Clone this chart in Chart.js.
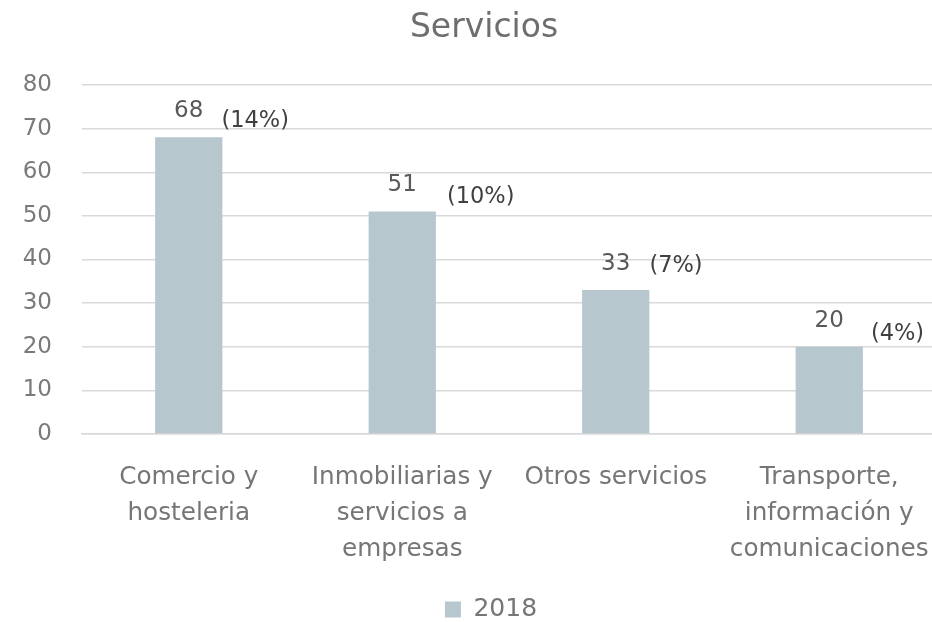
<!DOCTYPE html>
<html>
<head>
<meta charset="utf-8">
<script src="https://cdn.jsdelivr.net/npm/chart.js@4"></script>
<style>
  html, body { margin: 0; padding: 0; background: #fff; overflow: hidden; }
  /* plot runs a few pixels past the right edge in the original */
  #wrap { width: 936px; height: 622px; }
</style>
</head>
<body>
<div id="wrap"><canvas id="chart"></canvas></div>
<script>
// data
const categories = [
  ["Comercio y", "hosteleria"],
  ["Inmobiliarias y", "servicios a", "empresas"],
  ["Otros servicios"],
  ["Transporte,", "información y", "comunicaciones"]
];
const values2018 = [68, 51, 33, 20];
const shares = ["(14%)", "(10%)", "(7%)", "(4%)"];
const yTicks = [0, 10, 20, 30, 40, 50, 60, 70, 80];

const FONT = "'DejaVu Sans', sans-serif";

// draws the value above each bar and the share label beside it
const barLabels = {
  id: "barLabels",
  afterDatasetsDraw(chart, args, opts) {
    const ctx = chart.ctx;
    const meta = chart.getDatasetMeta(0);
    ctx.save();
    meta.data.forEach((bar, i) => {
      ctx.textBaseline = "middle";
      ctx.font = "23px " + FONT;
      ctx.textAlign = "center";
      ctx.fillStyle = "#595959";
      ctx.fillText(String(values2018[i]), bar.x, bar.y - 26);
      ctx.font = "22.5px " + FONT;
      ctx.textAlign = "left";
      ctx.fillStyle = "#404040";
      const n = opts.nudge[i];
      ctx.fillText(shares[i], bar.x + bar.width / 2 + n[0], bar.y - n[1]);
    });
    ctx.restore();
  }
};

// title and legend sit a bit right of centre in the original
const offCentre = {
  id: "offCentre",
  afterLayout(chart) {
    chart.legend.left += 23;
    chart.legend.right += 23;
  },
  afterDraw(chart) {
    const ctx = chart.ctx;
    ctx.save();
    ctx.font = "33px " + FONT;
    ctx.fillStyle = "#6e6e6e";
    ctx.textAlign = "center";
    ctx.textBaseline = "middle";
    ctx.fillText("Servicios", 484, 28);
    ctx.restore();
  }
};

new Chart(document.getElementById("chart"), {
  type: "bar",
  data: {
    labels: categories,
    datasets: [{
      label: "2018",
      data: values2018,
      backgroundColor: "#B7C7CE",
      borderWidth: 0,
      categoryPercentage: 1,
      barPercentage: 0.315
    }]
  },
  options: {
    responsive: true,
    maintainAspectRatio: false,
    animation: false,
    layout: { padding: { top: 85, left: 0, right: 0, bottom: -10 } },
    scales: {
      x: {
        grid: { display: false, drawTicks: false },
        border: { display: true, color: "#D9D9D9", width: 1.5 },
        ticks: {
          color: "#767676",
          font: { family: FONT, size: 24.7, lineHeight: 36 / 24.7 },
          padding: 26,
          maxRotation: 0,
          autoSkip: false
        },
        afterFit(scale) {
          scale.height = 161;
          scale.paddingLeft = 0;
          scale.paddingRight = 0;
        }
      },
      y: {
        min: 0,
        max: 80,
        afterBuildTicks(scale) { scale.ticks = yTicks.map(v => ({ value: v })); },
        grid: { color: "#D9D9D9", lineWidth: 1.5, drawTicks: false },
        border: { display: false },
        ticks: {
          color: "#7a7a7a",
          font: { family: FONT, size: 23 },
          padding: 30
        },
        afterFit(scale) { scale.width = 82; }
      }
    },
    plugins: {
      title: { display: false },
      tooltip: { enabled: false },
      legend: {
        position: "bottom",
        labels: {
          color: "#767676",
          font: { family: FONT, size: 25 },
          boxWidth: 16,
          boxHeight: 16,
          padding: 2
        }
      },
      barLabels: {
        nudge: [[-1, 16], [11, 14], [0, 24], [8, 13]]
      }
    }
  },
  plugins: [barLabels, offCentre]
});
</script>
</body>
</html>
